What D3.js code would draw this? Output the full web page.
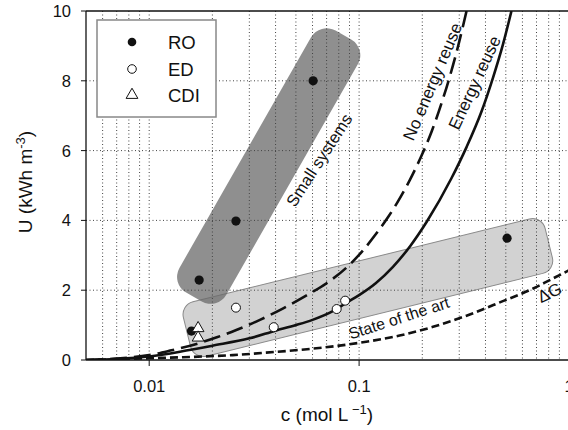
<!DOCTYPE html>
<html><head><meta charset="utf-8">
<script src="https://cdn.jsdelivr.net/npm/d3@7"></script>
<style>body{margin:0;background:#fff}svg{display:block;font-family:"Liberation Sans",Arial,sans-serif}</style>
</head><body><svg id="c" width="568" height="430"></svg>
<script>
// ---- data ----
const roPts  = [[0.0159,0.83],[0.0173,2.29],[0.0259,3.98],[0.0604,8.0],[0.507,3.49]];
const edPts  = [[0.0259,1.5],[0.0392,0.94],[0.0782,1.46],[0.0858,1.70]];
const cdiPts = [[0.0171,0.91],[0.0171,0.64]];
const energyReuse = [[0.005,0],[0.007,0.03],[0.01,0.1],[0.015,0.27],[0.02,0.41],[0.03,0.62],[0.04,0.84],[0.05,1.0],[0.06,1.15],[0.075,1.40],[0.087,1.64],[0.1,1.86],[0.12,2.2],[0.145,2.67],[0.175,3.26],[0.21,3.96],[0.275,5.2],[0.325,6.1],[0.383,7.12],[0.435,8.1],[0.485,9.05],[0.532,10]];
const noEnergyReuse = [[0.005,0],[0.007,0.04],[0.01,0.14],[0.0126,0.27],[0.0168,0.46],[0.021,0.65],[0.026,0.86],[0.0337,1.15],[0.0435,1.48],[0.0562,1.85],[0.070,2.2],[0.0872,2.65],[0.1047,3.15],[0.121,3.63],[0.138,4.11],[0.151,4.48],[0.1746,5.16],[0.1985,5.86],[0.2214,6.54],[0.247,7.36],[0.2704,8.12],[0.2965,9.0],[0.325,10]];
const deltaG = [[0.005,0],[0.01,0.05],[0.0145,0.08],[0.025,0.14],[0.036,0.21],[0.052,0.29],[0.078,0.40],[0.11,0.53],[0.156,0.70],[0.225,0.95],[0.325,1.27],[0.468,1.65],[0.675,2.05],[0.81,2.29],[1.0,2.57]];
const smallBand = [[0.01634,1.805],[0.0842,9.31]];
const stateBand = [[0.01514,0.80],[0.801,3.35]];
const xTicks = [0.01,0.1,1];
const xTickLabels = ["0.01","0.1","1"];
const yTicks = [0,2,4,6,8,10];
const xGrid = [0.006,0.007,0.008,0.009,0.01,0.02,0.03,0.04,0.05,0.06,0.07,0.08,0.09,0.1,0.2,0.3,0.4,0.5,0.6,0.7,0.8,0.9];
const yGrid = [2,4,6,8];
const legendItems = ["RO","ED","CDI"];
const labels = [
  {t:"Small systems",c:0.0644,u:5.73,a:-57,s:16.5},
  {t:"No energy reuse",c:0.2246,u:7.97,a:-67,s:17},
  {t:"Energy reuse",c:0.356,u:7.94,a:-65,s:17},
  {t:"State of the art",c:0.1547,u:1.20,a:-18,s:16},
  {t:"ΔG",c:0.81,u:1.92,a:-25,s:17}
];

// ---- layout ----
const svg = d3.select("#c");
const L=86, R=569, T=11, B=360;
const x = d3.scaleLog().domain([0.005,1]).range([L,R]);
const y = d3.scaleLinear().domain([0,10]).range([B,T]);

svg.append("clipPath").attr("id","clip").append("rect").attr("x",L).attr("y",T).attr("width",R-L).attr("height",B-T);
const plot = svg.append("g").attr("clip-path","url(#clip)");

function band(pts,w,rx,fill,op,stroke){
  const p1=[x(pts[0][0]),y(pts[0][1])], p2=[x(pts[1][0]),y(pts[1][1])];
  const len=Math.hypot(p2[0]-p1[0],p2[1]-p1[1]);
  const ang=Math.atan2(p2[1]-p1[1],p2[0]-p1[0])*180/Math.PI;
  const cx=(p1[0]+p2[0])/2, cy=(p1[1]+p2[1])/2;
  plot.append("rect").attr("x",-len/2).attr("y",-w/2).attr("width",len).attr("height",w).attr("rx",rx)
    .attr("transform",`translate(${cx},${cy}) rotate(${ang})`)
    .attr("fill",fill).attr("fill-opacity",op).attr("stroke",stroke||"none").attr("stroke-width",1);
}
band(stateBand,56,13,"#d2d2d2",1,"#8a8a8a");
band(smallBand,54,18,"#6a6a6a",0.75,null);

// grid
plot.selectAll(".vg").data(xGrid).enter().append("line")
  .attr("x1",d=>x(d)).attr("x2",d=>x(d)).attr("y1",T).attr("y2",B)
  .attr("stroke","#444").attr("stroke-width",1).attr("stroke-dasharray","1,2.5");
plot.selectAll(".hg").data(yGrid).enter().append("line")
  .attr("x1",L).attr("x2",R).attr("y1",d=>y(d)).attr("y2",d=>y(d))
  .attr("stroke","#444").attr("stroke-width",1).attr("stroke-dasharray","1,2.5");

// curves
const line = d3.line().x(d=>x(d[0])).y(d=>y(d[1])).curve(d3.curveMonotoneX);
plot.append("path").datum(deltaG).attr("d",line).attr("fill","none").attr("stroke","#111").attr("stroke-width",2.6).attr("stroke-dasharray","8,4");
plot.append("path").datum(noEnergyReuse).attr("d",line).attr("fill","none").attr("stroke","#111").attr("stroke-width",2.6).attr("stroke-dasharray","17,7");
plot.append("path").datum(energyReuse).attr("d",line).attr("fill","none").attr("stroke","#111").attr("stroke-width",2.6);

// points
plot.selectAll(".ro").data(roPts).enter().append("circle").attr("cx",d=>x(d[0])).attr("cy",d=>y(d[1])).attr("r",4.6).attr("fill","#111");
plot.selectAll(".ed").data(edPts).enter().append("circle").attr("cx",d=>x(d[0])).attr("cy",d=>y(d[1])).attr("r",4.5).attr("fill","#fff").attr("stroke","#111").attr("stroke-width",1);
const tri = d3.symbol().type(d3.symbolTriangle).size(60);
plot.selectAll(".cdi").data(cdiPts).enter().append("path").attr("d",tri)
  .attr("transform",d=>`translate(${x(d[0])},${y(d[1])})`).attr("fill","#fff").attr("stroke","#111").attr("stroke-width",1);

// labels
labels.forEach(l=>{
  svg.append("text").attr("transform",`translate(${x(l.c)},${y(l.u)}) rotate(${l.a})`)
    .attr("text-anchor","middle").attr("dominant-baseline","central").attr("font-size",l.s).attr("fill","#111").text(l.t);
});

// frame
svg.append("line").attr("x1",L).attr("x2",R).attr("y1",T).attr("y2",T).attr("stroke","#111").attr("stroke-width",1.3);
svg.append("line").attr("x1",L).attr("x2",L).attr("y1",T).attr("y2",B).attr("stroke","#111").attr("stroke-width",1.3);
svg.append("line").attr("x1",L).attr("x2",R).attr("y1",B).attr("y2",B).attr("stroke","#111").attr("stroke-width",1.3);

// axes ticks
svg.selectAll(".xt").data(xTicks).enter().append("line").attr("x1",d=>x(d)).attr("x2",d=>x(d)).attr("y1",B).attr("y2",B+6).attr("stroke","#111");
svg.selectAll(".xl").data(xTicks).enter().append("text").attr("x",d=>x(d)).attr("y",392).attr("text-anchor","middle").attr("font-size",16.5).attr("fill","#111").text((d,i)=>xTickLabels[i]);
svg.selectAll(".yt").data(yTicks).enter().append("line").attr("x1",L-5).attr("x2",L).attr("y1",d=>y(d)).attr("y2",d=>y(d)).attr("stroke","#111");
svg.selectAll(".yl").data(yTicks).enter().append("text").attr("x",71).attr("y",d=>y(d)+6).attr("text-anchor","end").attr("font-size",16.5).attr("fill","#111").text(d=>d);

// axis titles
const xt = svg.append("text").attr("x",327).attr("y",421).attr("text-anchor","middle").attr("font-size",19).attr("fill","#111");
xt.append("tspan").text("c (mol L");
xt.append("tspan").attr("dy",-7).attr("font-size",13).text(" −1");
xt.append("tspan").attr("dy",7).text(")");
const yt = svg.append("text").attr("transform","translate(32,182) rotate(-90)").attr("text-anchor","middle").attr("font-size",19).attr("fill","#111");
yt.append("tspan").text("U (kWh m");
yt.append("tspan").attr("dy",-7).attr("font-size",13).text("-3");
yt.append("tspan").attr("dy",7).text(")");

// legend
const lg = svg.append("g");
lg.append("rect").attr("x",97).attr("y",20).attr("width",119).attr("height",97).attr("fill","#fff").attr("stroke","#888").attr("stroke-width",1.5);
const ly = [42,69,95];
legendItems.forEach((t,i)=>{
  if(i===0) lg.append("circle").attr("cx",132).attr("cy",ly[i]).attr("r",4.3).attr("fill","#111");
  if(i===1) lg.append("circle").attr("cx",132).attr("cy",ly[i]).attr("r",4.3).attr("fill","#fff").attr("stroke","#111");
  if(i===2) lg.append("path").attr("d",tri).attr("transform",`translate(132,${ly[i]})`).attr("fill","#fff").attr("stroke","#111");
  lg.append("text").attr("x",168).attr("y",ly[i]+6.5).attr("font-size",18.5).attr("fill","#111").text(t);
});
</script></body></html>
